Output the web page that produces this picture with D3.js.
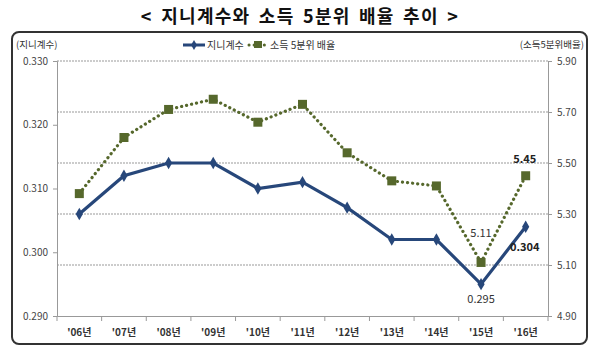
<!DOCTYPE html>
<html><head><meta charset="utf-8">
<script src="https://cdn.jsdelivr.net/npm/d3@7"></script>
<style>body{margin:0;background:#fff}svg{display:block}text{font-family:"Noto Sans CJK KR","Noto Sans",sans-serif}</style>
</head><body><svg id="c" width="600" height="359"></svg>
<script>
const years = ["'06년","'07년","'08년","'09년","'10년","'11년","'12년","'13년","'14년","'15년","'16년"];
const gini = [0.306,0.312,0.314,0.314,0.310,0.311,0.307,0.302,0.302,0.295,0.304];
const ratio = [5.38,5.60,5.71,5.75,5.66,5.73,5.54,5.43,5.41,5.11,5.45];
const leftTicks = [0.290,0.300,0.310,0.320,0.330];
const rightTicks = [4.90,5.10,5.30,5.50,5.70,5.90];

const svg = d3.select("#c");
const L=57,R=548,T=61,B=316;
const x = d3.scaleBand().domain(years).range([L,R]);
const yL = d3.scaleLinear().domain([0.290,0.330]).range([B,T]);
const yR = d3.scaleLinear().domain([4.90,5.90]).range([B,T]);

svg.append("text").attr("x",300).attr("y",23).attr("text-anchor","middle")
  .attr("font-size",18).attr("font-weight","bold").attr("fill","#111").attr("letter-spacing",1.3).attr("word-spacing",3)
  .text("< 지니계수와 소득 5분위 배율 추이 >");
svg.append("rect").attr("x",12).attr("y",32).attr("width",575).attr("height",312)
  .attr("rx",7).attr("fill","none").attr("stroke","#333").attr("stroke-width",2);

// gridlines
svg.append("g").selectAll("line").data(rightTicks.slice(1)).join("line")
  .attr("x1",L).attr("x2",R).attr("y1",d=>yR(d)).attr("y2",d=>yR(d))
  .attr("stroke","#999").attr("stroke-width",1).attr("stroke-dasharray","2,1");

// axes
const ax = svg.append("g").attr("transform",`translate(0,${B})`)
  .call(d3.axisBottom(x).tickSize(0).tickPadding(13));
ax.select(".domain").attr("stroke","#999");
ax.selectAll("text").attr("font-size",10).attr("font-weight","bold").attr("fill","#333");
svg.append("g").selectAll("line").data(d3.range(years.length+1)).join("line")
  .attr("x1",i=>L+i*x.step()).attr("x2",i=>L+i*x.step()).attr("y1",B).attr("y2",B+5).attr("stroke","#999");

const al = svg.append("g").attr("transform",`translate(${L},0)`)
  .call(d3.axisLeft(yL).tickValues(leftTicks).tickFormat(d3.format(".3f")).tickSize(4).tickPadding(5));
al.select(".domain").attr("stroke","#999");
al.selectAll("line").attr("stroke","#999");
al.selectAll("text").attr("font-size",10).attr("fill","#444").attr("font-family","Liberation Sans, sans-serif");
const ar = svg.append("g").attr("transform",`translate(${R},0)`)
  .call(d3.axisRight(yR).tickValues(rightTicks).tickFormat(d3.format(".2f")).tickSize(4).tickPadding(5));
ar.select(".domain").attr("stroke","#999");
ar.selectAll("line").attr("stroke","#999");
ar.selectAll("text").attr("font-size",10).attr("fill","#444").attr("font-family","Liberation Sans, sans-serif");

svg.append("text").attr("x",16).attr("y",48).attr("font-size",9.5).attr("fill","#333").text("(지니계수)");
svg.append("text").attr("x",584).attr("y",48).attr("text-anchor","end").attr("font-size",9.5).attr("fill","#333").text("(소득5분위배율)");

// legend
const blue="#27477a", green="#56682c";
svg.append("line").attr("x1",183).attr("x2",205).attr("y1",45).attr("y2",45).attr("stroke",blue).attr("stroke-width",3);
svg.append("path").attr("d",d3.symbol(d3.symbolDiamond,30)()).attr("transform","translate(194,45)").attr("fill",blue);
svg.append("text").attr("x",207).attr("y",49).attr("font-size",10).attr("fill","#333").text("지니계수");
svg.append("line").attr("x1",249).attr("x2",266).attr("y1",45).attr("y2",45).attr("stroke",green).attr("stroke-width",3).attr("stroke-dasharray","0.1,5").attr("stroke-linecap","round");
svg.append("rect").attr("x",254).attr("y",41).attr("width",8).attr("height",7).attr("fill",green);
svg.append("text").attr("x",270).attr("y",49).attr("font-size",10).attr("fill","#333").text("소득 5분위 배율");

const cx = d=>x(d)+x.bandwidth()/2;
// ratio line
svg.append("path").datum(ratio).attr("fill","none").attr("stroke",green).attr("stroke-width",3.2)
  .attr("stroke-dasharray","0.1,5").attr("stroke-linecap","round")
  .attr("d",d3.line().x((d,i)=>cx(years[i])).y(d=>yR(d)));
svg.append("g").selectAll("rect").data(ratio).join("rect")
  .attr("x",(d,i)=>cx(years[i])-4.5).attr("y",d=>yR(d)-4.5).attr("width",9).attr("height",9).attr("fill",green);

// gini line
svg.append("path").datum(gini).attr("fill","none").attr("stroke",blue).attr("stroke-width",3.2)
  .attr("d",d3.line().x((d,i)=>cx(years[i])).y(d=>yL(d)));
svg.append("g").selectAll("path").data(gini).join("path")
  .attr("d",d3.symbol(d3.symbolDiamond,45)())
  .attr("transform",(d,i)=>`translate(${cx(years[i])},${yL(d)})`).attr("fill",blue);

// data labels
const n=years.length-1;
svg.append("text").attr("x",cx(years[n])-1).attr("y",yR(ratio[n])-13).attr("text-anchor","middle")
  .attr("font-size",11).attr("font-weight","bold").attr("fill","#222").attr("font-family","Liberation Sans, sans-serif").text(ratio[n].toFixed(2));
svg.append("text").attr("x",cx(years[n])-1).attr("y",yL(gini[n])+24).attr("text-anchor","middle")
  .attr("font-size",11).attr("font-weight","bold").attr("fill","#222").attr("font-family","Liberation Sans, sans-serif").text(gini[n].toFixed(3));
svg.append("text").attr("x",cx(years[n-1])).attr("y",yR(ratio[n-1])-25).attr("text-anchor","middle")
  .attr("font-size",11).attr("fill","#333").attr("font-family","Liberation Sans, sans-serif").text(ratio[n-1].toFixed(2));
svg.append("text").attr("x",cx(years[n-1])).attr("y",yL(gini[n-1])+19).attr("text-anchor","middle")
  .attr("font-size",11).attr("fill","#333").attr("font-family","Liberation Sans, sans-serif").text(gini[n-1].toFixed(3));
</script></body></html>
